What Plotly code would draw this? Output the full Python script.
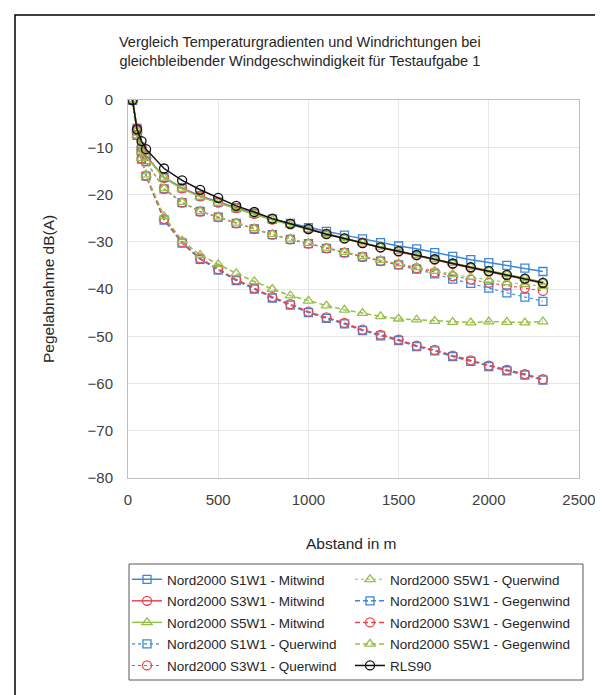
import plotly.graph_objects as go

# ---------------- data ----------------
distance_m = [25, 50, 75, 100, 200, 300, 400, 500, 600, 700, 800, 900, 1000,
              1100, 1200, 1300, 1400, 1500, 1600, 1700, 1800, 1900, 2000, 2100, 2200, 2300]

s1_mitwind = [0, -6.0, -10.0, -11.8, -16.4, -18.6, -20.3, -21.6, -22.8, -24.0, -25.2, -26.1, -27.0,
              -27.8, -28.6, -29.4, -30.2, -30.9, -31.5, -32.3, -33.1, -33.8, -34.4, -35.0, -35.6, -36.3]
s3_mitwind = [0, -6.0, -10.0, -11.8, -16.5, -18.7, -20.4, -21.7, -22.9, -24.1, -25.3, -26.3, -27.3,
              -28.3, -29.3, -30.2, -31.2, -32.1, -32.9, -33.8, -34.7, -35.5, -36.3, -37.1, -37.9, -38.8]
s5_mitwind = [0, -6.0, -10.1, -11.9, -16.5, -18.8, -20.5, -21.8, -23.0, -24.2, -25.4, -26.4, -27.4,
              -28.4, -29.3, -30.2, -31.1, -32.0, -32.8, -33.7, -34.5, -35.3, -36.1, -36.9, -37.7, -38.5]

s1_querwind = [0, -6.5, -11.0, -13.0, -18.8, -21.7, -23.6, -24.8, -26.1, -27.3, -28.5, -29.5, -30.4,
               -31.4, -32.3, -33.2, -34.1, -34.9, -35.8, -36.8, -37.9, -38.8, -39.8, -40.8, -41.7, -42.6]
s3_querwind = [0, -6.5, -11.0, -13.0, -18.8, -21.7, -23.6, -24.8, -26.1, -27.3, -28.5, -29.5, -30.4,
               -31.4, -32.3, -33.2, -34.1, -34.8, -35.6, -36.5, -37.3, -38.0, -38.7, -39.3, -39.8, -40.4]
s5_querwind = [0, -6.5, -11.0, -13.0, -18.7, -21.6, -23.5, -24.7, -26.0, -27.2, -28.4, -29.4, -30.3,
               -31.3, -32.2, -33.1, -33.9, -34.6, -35.4, -36.2, -36.9, -37.5, -38.1, -38.6, -39.0, -39.4]

s1_gegenwind = [0, -7.5, -12.5, -16.1, -25.4, -30.3, -33.7, -36.0, -38.2, -40.0, -41.9, -43.4, -45.0,
                -46.2, -47.4, -48.8, -49.9, -50.9, -52.2, -53.1, -54.3, -55.3, -56.4, -57.3, -58.2, -59.3]
s3_gegenwind = [0, -7.4, -12.4, -16.0, -25.2, -30.1, -33.5, -35.8, -38.0, -39.8, -41.7, -43.2, -44.8,
                -46.0, -47.2, -48.6, -49.7, -50.7, -52.0, -52.9, -54.1, -55.1, -56.2, -57.1, -58.0, -59.1]
s5_gegenwind = [0, -7.5, -12.3, -15.8, -24.6, -29.8, -32.8, -34.8, -36.7, -38.4, -40.0, -41.4, -42.5,
                -43.5, -44.4, -45.1, -45.8, -46.3, -46.5, -46.8, -47.0, -47.1, -46.9, -47.0, -47.1, -46.9]

rls90 = [0, -6.2, -8.7, -10.4, -14.5, -17.0, -19.0, -20.7, -22.4, -23.7, -25.1, -26.2, -27.3,
         -28.4, -29.3, -30.3, -31.2, -32.0, -32.8, -33.7, -34.6, -35.4, -36.2, -37.0, -37.8, -38.7]

title_text = ("Vergleich Temperaturgradienten und Windrichtungen bei<br>"
              "gleichbleibender Windgeschwindigkeit für Testaufgabe 1")
x_title = "Abstand in m"
y_title = "Pegelabnahme dB(A)"

# ---------------- style ----------------
W, H = 603, 695
ML, MR, MT, MB = 120, 32, 92, 225
PW, PH = W - ML - MR, H - MT - MB
FONT = "Liberation Sans, Arial, sans-serif"
BLUE, RED, GREEN, BLACK = "#3F86D4", "#E5484D", "#96C04A", "#111111"
TXT = "#262626"


def px_x(px):
    return (px - ML) / PW


def px_y(py):
    return (H - MB - py) / PH


series = [
    ("Nord2000 S1W1 - Mitwind", s1_mitwind, BLUE, "square-open", "solid", 1.5, "legend"),
    ("Nord2000 S3W1 - Mitwind", s3_mitwind, RED, "circle-open", "solid", 1.5, "legend"),
    ("Nord2000 S5W1 - Mitwind", s5_mitwind, GREEN, "triangle-up-open", "solid", 1.5, "legend"),
    ("Nord2000 S1W1 - Querwind", s1_querwind, BLUE, "square-open", "dot", 1.1, "legend"),
    ("Nord2000 S3W1 - Querwind", s3_querwind, RED, "circle-open", "dot", 1.1, "legend"),
    ("Nord2000 S5W1 - Querwind", s5_querwind, GREEN, "triangle-up-open", "dot", 1.1, "legend2"),
    ("Nord2000 S1W1 - Gegenwind", s1_gegenwind, BLUE, "square-open", "5px,3px", 1.5, "legend2"),
    ("Nord2000 S3W1 - Gegenwind", s3_gegenwind, RED, "circle-open", "5px,3px", 1.5, "legend2"),
    ("Nord2000 S5W1 - Gegenwind", s5_gegenwind, GREEN, "triangle-up-open", "5px,3px", 1.5, "legend2"),
    ("RLS90", rls90, BLACK, "circle-open", "solid", 1.5, "legend2"),
]

fig = go.Figure()
for i, (name, vals, col, sym, dash, lw, leg) in enumerate(series):
    size = 8 if sym == "square-open" else 9
    fig.add_trace(go.Scatter(
        x=distance_m, y=vals, name=name, mode="lines+markers",
        line=dict(color=col, width=lw, dash=dash),
        marker=dict(symbol=sym, size=size, color=col, line=dict(color=col, width=1.3)),
        legend=leg, legendgroup=f"g{i}",
    ))

axis_common = dict(
    showline=True, linecolor="#BFBFBF", linewidth=1, mirror=True,
    showgrid=True, gridcolor="#E6E6E6", gridwidth=1,
    zeroline=False, ticks="",
    tickfont=dict(family=FONT, size=15, color="#404040"),
)

fig.update_xaxes(range=[0, 2500], dtick=500, tick0=0, ticklabelstandoff=8, **axis_common)
fig.update_yaxes(range=[-80, 0], dtick=10, tick0=0, ticklabelstandoff=11, **axis_common)

legend_common = dict(
    orientation="v", yanchor="top", xanchor="left",
    bgcolor="rgba(0,0,0,0)", borderwidth=0,
    font=dict(family=FONT, size=13.5, color=TXT),
    traceorder="grouped", tracegroupgap=1, itemwidth=30,
)

fig.update_layout(
    width=W, height=H,
    margin=dict(l=ML, r=MR, t=MT, b=MB),
    paper_bgcolor="white", plot_bgcolor="white",
    font=dict(family=FONT, color=TXT),
    legend=dict(x=px_x(119), y=px_y(556), **legend_common),
    legend2=dict(x=px_x(342), y=px_y(556), **legend_common),
    showlegend=True,
    annotations=[
        dict(text=title_text, xref="paper", yref="paper", x=px_x(292), y=px_y(43),
             xanchor="center", yanchor="middle", showarrow=False, align="center",
             font=dict(family=FONT, size=14.5, color=TXT)),
        dict(text=x_title, xref="paper", yref="paper", x=px_x(343), y=px_y(535),
             xanchor="center", yanchor="middle", showarrow=False,
             font=dict(family=FONT, size=15.5, color=TXT)),
        dict(text=y_title, xref="paper", yref="paper", x=px_x(40), y=px_y(281),
             xanchor="center", yanchor="middle", showarrow=False, textangle=-90,
             font=dict(family=FONT, size=15.5, color=TXT)),
    ],
    shapes=[
        dict(type="rect", xref="paper", yref="paper",
             x0=px_x(121), x1=px_x(575), y0=px_y(556), y1=px_y(672),
             line=dict(color="#595959", width=1), fillcolor="rgba(0,0,0,0)"),
        dict(type="rect", xref="paper", yref="paper",
             x0=px_x(7), x1=px_x(720), y0=px_y(7), y1=px_y(800),
             line=dict(color="#000000", width=1.5), fillcolor="rgba(0,0,0,0)"),
    ],
)

fig.write_html("out.html")
